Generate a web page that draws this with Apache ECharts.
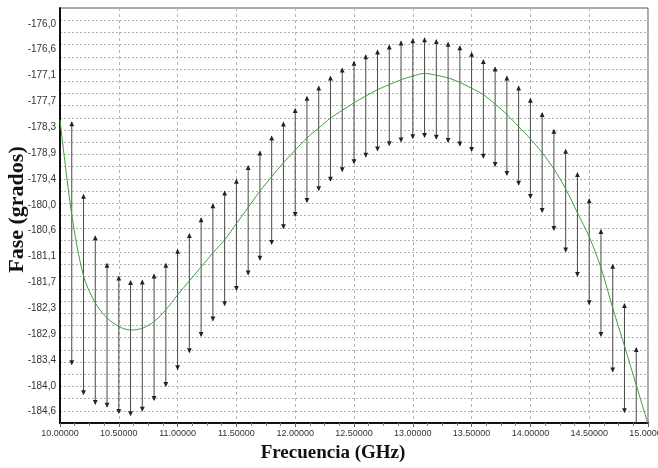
<!DOCTYPE html>
<html>
<head>
<meta charset="utf-8">
<script src="https://cdn.jsdelivr.net/npm/echarts@6/dist/echarts.min.js"></script>
<style>
  html, body { margin: 0; padding: 0; background: #fff; }
  #chart { width: 658px; height: 468px; }
</style>
</head>
<body>
<div id="chart"></div>
<script>
// measured points (GHz) with upper / lower phase limits (degrees)
const FREQ = [
  10.1, 10.2, 10.3, 10.4, 10.5, 10.6, 10.7, 10.8, 10.9, 11.0,
  11.1, 11.2, 11.3, 11.4, 11.5, 11.6, 11.7, 11.8, 11.9, 12.0,
  12.1, 12.2, 12.3, 12.4, 12.5, 12.6, 12.7, 12.8, 12.9, 13.0,
  13.1, 13.2, 13.3, 13.4, 13.5, 13.6, 13.7, 13.8, 13.9, 14.0,
  14.1, 14.2, 14.3, 14.4, 14.5, 14.6, 14.7, 14.8, 14.9
];
const PHASE_HIGH = [
  -178.18, -179.79, -180.71, -181.32, -181.60, -181.70, -181.69, -181.56, -181.32, -181.01,
  -180.66, -180.31, -180.00, -179.72, -179.46, -179.15, -178.83, -178.50, -178.19, -177.89,
  -177.62, -177.39, -177.17, -176.99, -176.84, -176.70, -176.59, -176.48, -176.39, -176.34,
  -176.32, -176.36, -176.42, -176.50, -176.64, -176.80, -176.97, -177.17, -177.39, -177.66,
  -177.98, -178.35, -178.79, -179.31, -179.89, -180.57, -181.34, -182.21, -183.19
];
const PHASE_LOW = [
  -183.55, -184.21, -184.43, -184.49, -184.63, -184.68, -184.58, -184.34, -184.03, -183.66,
  -183.28, -182.92, -182.58, -182.24, -181.90, -181.56, -181.23, -180.88, -180.53, -180.26,
  -179.95, -179.69, -179.48, -179.27, -179.09, -178.95, -178.81, -178.69, -178.61, -178.54,
  -178.51, -178.55, -178.62, -178.70, -178.82, -178.97, -179.15, -179.35, -179.57, -179.86,
  -180.17, -180.57, -181.05, -181.59, -182.22, -182.92, -183.71, -184.61, -185.00
];

// green model curve
const MODEL_FREQ = [
  10.0, 10.1, 10.2, 10.3, 10.4, 10.5, 10.6, 10.7, 10.8, 10.9,
  11.0, 11.1, 11.2, 11.3, 11.4, 11.5, 11.6, 11.7, 11.8, 11.9,
  12.0, 12.1, 12.2, 12.3, 12.4, 12.5, 12.6, 12.7, 12.8, 12.9,
  13.0, 13.1, 13.2, 13.3, 13.4, 13.5, 13.6, 13.7, 13.8, 13.9,
  14.0, 14.1, 14.2, 14.3, 14.4, 14.5, 14.6, 14.7, 14.8, 14.9,
  15.0
];
const MODEL_PHASE = [
  -178.13, -180.23, -181.59, -182.19, -182.52, -182.71, -182.79, -182.75, -182.60, -182.34,
  -182.01, -181.70, -181.39, -181.08, -180.79, -180.43, -180.07, -179.71, -179.39, -179.08,
  -178.80, -178.53, -178.31, -178.09, -177.92, -177.75, -177.60, -177.46, -177.35, -177.24,
  -177.16, -177.10, -177.14, -177.20, -177.30, -177.43, -177.57, -177.78, -178.01, -178.28,
  -178.55, -178.86, -179.22, -179.66, -180.19, -180.72, -181.41, -182.30, -183.14, -184.01,
  -184.87
];

// y axis: labels printed top to bottom, evenly spaced between first and last
const Y_TICK_LABELS = [
  "-176,0", "-176,6", "-177,1", "-177,7", "-178,3", "-178,9", "-179,4", "-180,0",
  "-180,6", "-181,1", "-181,7", "-182,3", "-182,9", "-183,4", "-184,0", "-184,6"
];
const Y_LABEL_TOP = -176.0;
const Y_LABEL_BOTTOM = -184.6;
const Y_MIN = -184.85;
const Y_MAX = -175.65;
// dashed horizontal grid is finer than the labels and not aligned with them
const Y_GRID_TOP = -175.92;
const Y_GRID_STEP = 0.2707;
const Y_GRID_COUNT = 33;

const X_MIN = 10;
const X_MAX = 15;
const X_STEP = 0.5;

const labelStep = (Y_LABEL_TOP - Y_LABEL_BOTTOM) / (Y_TICK_LABELS.length - 1);
const yLabelValues = Y_TICK_LABELS.map((_, i) => Y_LABEL_TOP - i * labelStep);
const yGridValues = [];
for (let i = 0; i < Y_GRID_COUNT; i++) yGridValues.push(+(Y_GRID_TOP - i * Y_GRID_STEP).toFixed(4));

const labelFont = "'Liberation Sans Narrow', 'Liberation Sans', Arial, sans-serif";
const nameFont = "'Liberation Serif', 'Times New Roman', serif";

const chart = echarts.init(document.getElementById("chart"), null, { renderer: "canvas" });

const renderErrorBar = (params, api) => {
  const top = api.coord([api.value(0), api.value(1)]);
  const bot = api.coord([api.value(0), api.value(2)]);
  const arrow = { fill: "#222" };
  return {
    type: "group",
    children: [
      {
        type: "line",
        shape: { x1: top[0], y1: top[1], x2: bot[0], y2: bot[1] },
        style: { stroke: "#4a4a4a", lineWidth: 1 },
      },
      {
        type: "polygon",
        shape: { points: [[top[0], top[1] - 1], [top[0] - 2.4, top[1] + 4], [top[0] + 2.4, top[1] + 4]] },
        style: arrow,
      },
      {
        type: "polygon",
        shape: { points: [[bot[0], bot[1] + 1], [bot[0] - 2.4, bot[1] - 4], [bot[0] + 2.4, bot[1] - 4]] },
        style: arrow,
      },
    ],
  };
};

chart.setOption({
  animation: false,
  backgroundColor: "#fff",
  grid: {
    left: 60, right: 10, top: 8, bottom: 45,
    outerBoundsMode: "none",
    containLabel: false,
    show: true, borderColor: "#555", borderWidth: 1,
  },
  xAxis: {
    type: "value",
    min: X_MIN,
    max: X_MAX,
    interval: X_STEP,
    name: "Frecuencia (GHz)",
    nameLocation: "middle",
    nameGap: 21,
    nameMoveOverlap: false,
    nameTextStyle: {
      fontFamily: nameFont, fontWeight: "bold", fontSize: 19, color: "#111",
      padding: [0, 42, 0, 0],
    },
    axisLine: { show: true, lineStyle: { color: "#111", width: 2 } },
    axisTick: { show: true, inside: false, length: 4, lineStyle: { color: "#666" } },
    minorTick: { show: true, splitNumber: 4, length: 3, lineStyle: { color: "#888" } },
    axisLabel: {
      margin: 6,
      fontFamily: labelFont, fontSize: 9, color: "#333",
      formatter: (v) => v.toFixed(5),
    },
    splitLine: { show: true, lineStyle: { color: "#b5b5b5", type: [3, 3], width: 1 } },
  },
  yAxis: {
    type: "value",
    min: Y_MIN,
    max: Y_MAX,
    name: "Fase (grados)",
    nameLocation: "middle",
    nameGap: 32,
    nameMoveOverlap: false,
    nameTextStyle: {
      fontFamily: nameFont, fontWeight: "bold", fontSize: 22, color: "#111",
      padding: [0, 0, 0, 12],
    },
    axisLine: { show: true, lineStyle: { color: "#111", width: 2 } },
    axisTick: { show: false, customValues: yGridValues },
    axisLabel: {
      margin: 4,
      customValues: yLabelValues,
      fontFamily: labelFont, fontSize: 10, color: "#333",
      formatter: (v) => {
        const i = Math.round((Y_LABEL_TOP - v) / labelStep);
        return Y_TICK_LABELS[i] || "";
      },
    },
    splitLine: { show: true, lineStyle: { color: "#b0b0b0", type: [2, 2], width: 1 } },
  },
  series: [
    {
      name: "limites",
      type: "custom",
      clip: true,
      renderItem: renderErrorBar,
      encode: { x: 0, y: [1, 2] },
      data: FREQ.map((f, i) => [f, PHASE_HIGH[i], PHASE_LOW[i]]),
      z: 3,
    },
    {
      name: "modelo",
      type: "line",
      smooth: 0.3,
      showSymbol: false,
      clip: true,
      lineStyle: { color: "#3f9f3f", width: 1 },
      data: MODEL_FREQ.map((f, i) => [f, MODEL_PHASE[i]]),
      z: 4,
    },
  ],
});
</script>
</body>
</html>
